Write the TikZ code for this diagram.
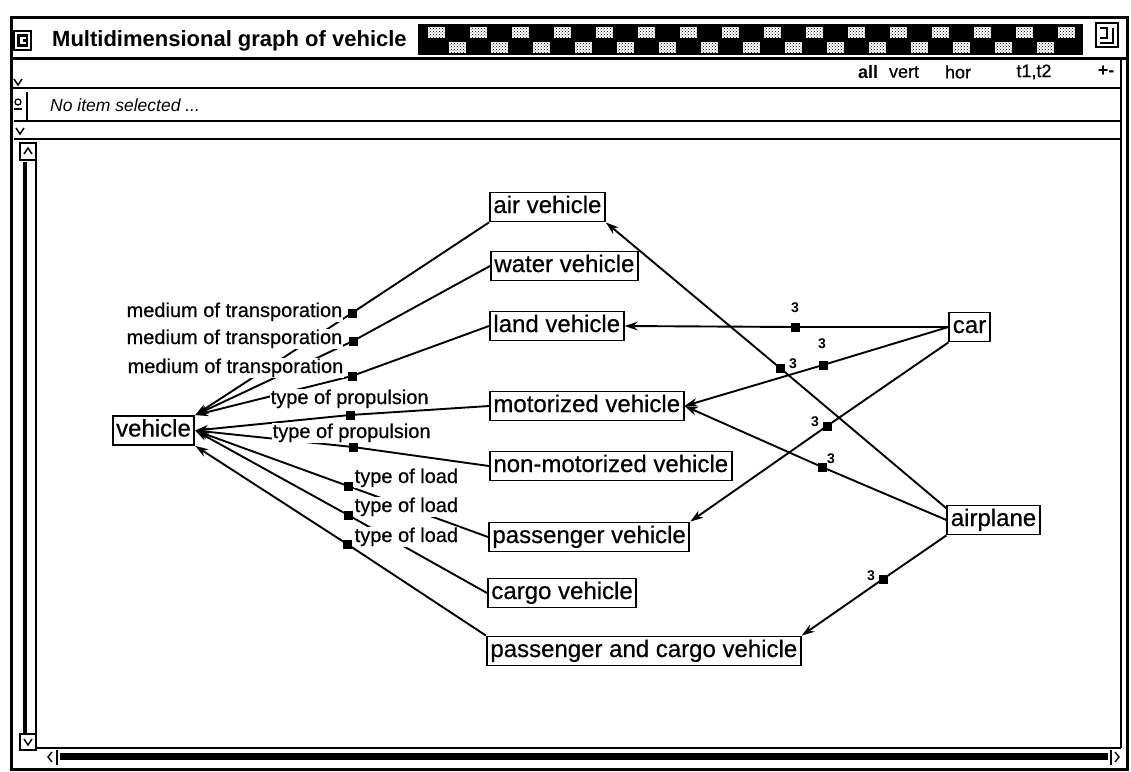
\documentclass[tikz,border=0pt]{standalone}
\usepackage{fontspec}
\setmainfont{Liberation Sans}
\newfontfamily\heavysans{Liberation Sans}[FakeBold=0.5]
\usetikzlibrary{arrows.meta,patterns,calc}

\begin{document}
\begin{tikzpicture}[x=1pt,y=-1pt,line join=miter,
  box/.style={draw,line width=1.8pt,fill=white,inner xsep=3.5pt,inner ysep=0pt,
    minimum height=29pt,text height=17pt,text depth=5pt,
    font=\heavysans\fontsize{24}{24}\selectfont},
  rel/.style={fill=white,inner sep=0.5pt,text height=14.5pt,text depth=4pt,
    font=\heavysans\fontsize{20}{20}\selectfont},
  knot/.style={fill=black,minimum size=9pt,inner sep=0pt},
  card/.style={font=\bfseries\fontsize{14}{14}\selectfont,inner sep=0pt},
  link/.style={line width=1.9pt,-{Stealth[length=13pt,width=8.5pt]}},
  chev/.style={line width=1.4pt},
  tool/.style={font=\heavysans\fontsize{18}{18}\selectfont,inner sep=0pt,anchor=center},
]
\useasboundingbox (0,0) rectangle (1131,771);
\fill[white] (0,0) rectangle (1131,771);

% ---------- window frame ----------
\draw[line width=3pt] (11,17) rectangle (1127,769);

% title bar
\draw[line width=1.5pt] (14,31) rectangle (31,50);
\fill (17,34) rectangle (28,47);
\fill[white] (20,37) rectangle (26,44);
\fill (23,39) rectangle (28,42);
\node[anchor=west,inner sep=0pt,font=\bfseries\fontsize{22}{22}\selectfont]
  (title) at (52,41) {Multidimensional graph of vehicle};
\fill (418,24) rectangle (1083,55);
\foreach \i in {0,...,15} {
  \fill[white] ({428+42*\i},27) rectangle ({445+42*\i},38);
  \fill[pattern=crosshatch dots] ({428+42*\i},27) rectangle ({445+42*\i},38);
}
\foreach \i in {0,...,14} {
  \fill[white] ({449+42*\i},42) rectangle ({466+42*\i},53);
  \fill[pattern=crosshatch dots] ({449+42*\i},42) rectangle ({466+42*\i},53);
}
\draw[line width=1.6pt] (1096,23) rectangle (1118,47);
\draw[line width=1.8pt] (1100,28) -- (1107,28) -- (1107,38) -- (1100,38);
\draw[line width=1.8pt] (1100,43) -- (1113,43) -- (1113,28);
\draw[line width=3pt] (11,58) -- (1127,58);

% tool row
\node[tool,font=\bfseries\fontsize{18}{18}\selectfont] (tall) at (868,72) {all};
\node[tool] (tvert) at (904,72) {vert};
\node[tool] (thor) at (958,72) {hor};
\node[tool] (tt) at (1034,72) {t1,t2};
\node[tool,font=\bfseries\fontsize{18}{18}\selectfont] (tpm) at (1106,71) {+-};
\draw[chev] (14,79) -- (18,85) -- (22,79);
\draw[line width=1.5pt] (12,88) -- (1121,88);

% status row
\draw[line width=1.3pt] (18,102) circle (3);
\draw[line width=1.3pt] (14,109) -- (22,109);
\draw[line width=1.3pt] (27,92) -- (27,121);
\node[anchor=west,inner sep=0pt,font=\itshape\fontsize{17.5}{17.5}\selectfont]
  (status) at (50,105) {No item selected ...};
\draw[line width=1.5pt] (14,121) -- (1121,121);

% collapse row
\draw[chev] (16,128) -- (20,134) -- (24,128);
\draw[line width=1.5pt] (14,139) -- (1121,139);
\draw[line width=1.3pt] (1121,58) -- (1121,748);

% vertical scroll bar
\draw[line width=1.3pt] (20,143) rectangle (36,160);
\draw[chev] (24,154) -- (28,148) -- (32,154);
\draw[line width=4pt] (25,162) -- (25,734);
\draw[line width=1.3pt] (36,160) -- (36,748);
\draw[line width=1.3pt] (20,734) rectangle (36,750);
\draw[chev] (24,739) -- (28,745) -- (32,739);

% horizontal scroll bar
\draw[line width=1.5pt] (36,748) -- (1121,748);
\draw[chev] (52,752) -- (48,757) -- (52,762);
\draw[line width=1.2pt] (57,750) -- (57,765);
\fill (60,753) rectangle (1108,760);
\draw[line width=1.2pt] (1111,750) -- (1111,765);
\draw[chev] (1115,752) -- (1119,757) -- (1115,762);

% ---------- graph ----------
\node[box] (vehicle) at (153.5,430.5) {vehicle};
\node[box,anchor=west] (air) at (489,207) {air vehicle};
\node[box,anchor=west] (water) at (490,266) {water vehicle};
\node[box,anchor=west] (land) at (489,326) {land vehicle};
\node[box,anchor=west] (motor) at (489,406) {motorized vehicle};
\node[box,anchor=west] (nonmotor) at (489,466) {non-motorized vehicle};
\node[box,anchor=west] (pass) at (488,537) {passenger vehicle};
\node[box,anchor=west] (cargo) at (487,593) {cargo vehicle};
\node[box,anchor=west] (pcv) at (486,651) {passenger and cargo vehicle};
\node[box] (car) at (969.5,327) {car};
\node[box] (airplane) at (993.5,520) {airplane};

% relation knots
\coordinate (m1) at (352,313);
\coordinate (m2) at (353,341);
\coordinate (m3) at (352,376);
\coordinate (m4) at (350,415);
\coordinate (m5) at (353,447);
\coordinate (m6) at (348,486);
\coordinate (m7) at (348,515);
\coordinate (m8) at (347,544);
\coordinate (k1) at (795,327);
\coordinate (k2) at (823,365);
\coordinate (k3) at (827,426);
\coordinate (k4) at (780,368);
\coordinate (k5) at (822,467);
\coordinate (k6) at (883,579);

% generalisation links towards vehicle
\draw[link] (air.south west) -- (m1) -- (vehicle.north east);
\draw[link] (water.west) -- (m2) -- (vehicle.north east);
\draw[link] (land.west) -- (m3) -- (vehicle.north east);
\draw[link] (motor.west) -- (m4) -- (vehicle.east);
\draw[link] (nonmotor.west) -- (m5) -- (vehicle.east);
\draw[link] (pass.west) -- (m6) -- (vehicle.east);
\draw[link] (cargo.west) -- (m7) -- (vehicle.east);
\draw[link] (pcv.north west) -- (m8) -- (vehicle.south east);

% instance links
\coordinate (a1) at ($(airplane.north west)!0.12!(airplane.south west)$);
\draw[link] (car.west) -- (k1) -- (land.east);
\draw[link] (car.west) -- (k2) -- (motor.east);
\draw[link] (car.south west) -- (k3) -- (pass.north east);
\draw[link] (a1) -- (k4) -- (air.south east);
\draw[link] (airplane.west) -- (k5) -- (motor.east);
\draw[link] (airplane.south west) -- (k6) -- (pcv.north east);

% relation labels
\node[rel,anchor=base east] (l1) at (343,317) {medium of transporation};
\node[rel,anchor=base east] (l2) at (343,344) {medium of transporation};
\node[rel,anchor=base east] (l3) at (344,373) {medium of transporation};
\node[rel,anchor=base west] (l4) at (270,404) {type of propulsion};
\node[rel,anchor=base west] (l5) at (272,438) {type of propulsion};
\node[rel,anchor=base west] (l6) at (354,483) {type of load};
\node[rel,anchor=base west] (l7) at (354,512) {type of load};
\node[rel,anchor=base west] (l8) at (354,542) {type of load};

\foreach \m in {m1,m2,m3,m4,m5,m6,m7,m8,k1,k2,k3,k4,k5,k6}
  \node[knot] at (\m) {};

% cardinalities
\node[card] (c1) at (795,308) {3};
\node[card] (c2) at (822,344) {3};
\node[card] (c4) at (793,364) {3};
\node[card] (c3) at (815,422) {3};
\node[card] (c5) at (831,459) {3};
\node[card] (c6) at (871,576) {3};
\end{tikzpicture}
\end{document}
